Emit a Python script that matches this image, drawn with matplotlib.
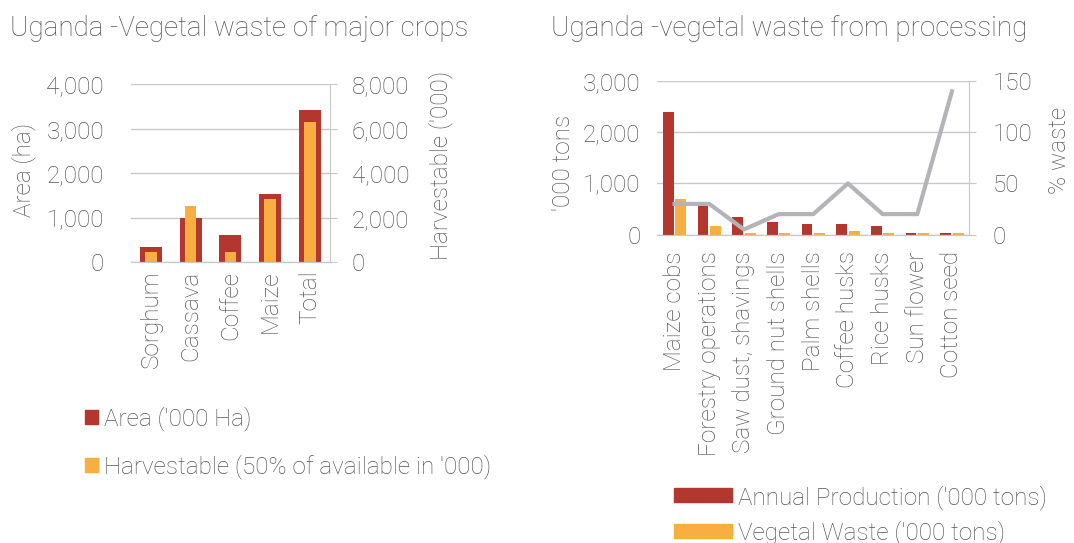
import numpy as np
import matplotlib
matplotlib.use("Agg")
import matplotlib.pyplot as plt
from matplotlib.patches import Patch
from matplotlib.ticker import StrMethodFormatter

plt.rcParams["font.family"] = ["Roboto", "DejaVu Sans"]
plt.rcParams["font.weight"] = "light"
plt.rcParams["axes.labelweight"] = "light"
plt.rcParams["text.color"] = "#555555"
plt.rcParams["xtick.color"] = "#555555"
plt.rcParams["ytick.color"] = "#555555"

# left chart data
crops = ["Sorghum", "Cassava", "Coffee", "Maize", "Total"]
area = [337, 1000, 614, 1536, 3431]
harvestable = [464, 2532, 464, 2861, 6321]

# right chart data
residues = ["Maize cobs", "Forestry operations", "Saw dust, shavings",
            "Ground nut shells", "Palm shells", "Coffee husks",
            "Rice husks", "Sun flower", "Cotton seed"]
production = [2407, 574, 346, 254, 215, 215, 170, 26, 39]
waste = [698, 170, 39, 33, 33, 78, 33, 33, 33]
pct_waste = [30, 30, 5, 20, 20, 50, 20, 20, 140]

RED = "#B3372F"
ORANGE = "#F9AE41"
GREY = "#B4B4B8"
GRID = "#C8C8C8"
FS = 17.5
TFS = 20

fig = plt.figure(figsize=(10.74, 5.43), dpi=100)


def style(ax, ax2, lpad, rpad, xpad):
    for a in (ax, ax2):
        for side in ("top", "left", "right"):
            a.spines[side].set_visible(False)
        a.spines["bottom"].set_color(GRID)
        a.tick_params(labelsize=FS, length=0)
    ax2.spines["right"].set_visible(True)
    ax2.spines["right"].set_color(GRID)
    ax2.tick_params(axis="y", length=5, color=GRID, pad=rpad)
    ax.tick_params(axis="y", pad=lpad)
    ax.tick_params(axis="x", pad=xpad)
    ax.grid(axis="y", color=GRID, linewidth=1)
    ax.set_axisbelow(True)


# ---- left: vegetal waste of major crops
ax1 = fig.add_axes([0.122, 0.517, 0.185, 0.328])
ax1b = ax1.twinx()
x = np.arange(len(crops))
ax1.bar(x, area, width=0.55, color=RED, zorder=2)
ax1b.bar(x, harvestable, width=0.29, color=ORANGE, zorder=3)
ax1.set_xlim(-0.5, len(crops) - 0.5)
ax1.set_ylim(0, 4000)
ax1b.set_ylim(0, 8000)
ax1.set_yticks(np.arange(0, 4001, 1000))
ax1b.set_yticks(np.arange(0, 8001, 2000))
ax1.yaxis.set_major_formatter(StrMethodFormatter("{x:,.0f}"))
ax1b.yaxis.set_major_formatter(StrMethodFormatter("{x:,.0f}"))
ax1.set_xticks(x)
ax1.set_xticklabels(crops, rotation=90)
style(ax1, ax1b, 19.5, 11, 6)
fig.text(24 / 1074, 1 - 170 / 543, "Area (ha)", fontsize=FS, rotation=90,
         ha="center", va="center")
fig.text(441 / 1074, 1 - 165 / 543, "Harvestable ('000)", fontsize=FS,
         rotation=90, ha="center", va="center")
fig.text(0.009, 0.948, "Uganda -Vegetal waste of major crops", fontsize=TFS,
         va="center")
fig.legend(handles=[Patch(color=RED, label="Area ('000 Ha)"),
                    Patch(color=ORANGE, label="Harvestable (50% of available in '000)")],
           loc="upper left", bbox_to_anchor=(0.0791, 0.251), frameon=False,
           fontsize=FS, handlelength=0.53, handleheight=0.53, handletextpad=0.25,
           labelspacing=0.94, borderaxespad=0, borderpad=0)

# ---- right: vegetal waste from processing
ax2 = fig.add_axes([0.612, 0.568, 0.2905, 0.2825])
ax2b = ax2.twinx()
x = np.arange(len(residues))
ax2.bar(x - 0.18, production, width=0.31, color=RED, zorder=2)
ax2.bar(x + 0.18, waste, width=0.31, color=ORANGE, zorder=2)
ax2b.plot(x, pct_waste, color=GREY, linewidth=3, zorder=3)
ax2.set_xlim(-0.5, len(residues) - 0.5)
ax2.set_ylim(0, 3000)
ax2b.set_ylim(0, 150)
ax2.set_yticks(np.arange(0, 3001, 1000))
ax2b.set_yticks(np.arange(0, 151, 50))
ax2.yaxis.set_major_formatter(StrMethodFormatter("{x:,.0f}"))
ax2.set_xticks(x)
ax2.set_xticklabels(residues, rotation=90)
style(ax2, ax2b, 12, 12, 12)
fig.text(563 / 1074, 1 - 163 / 543, "'000 tons", fontsize=FS, rotation=90,
         ha="center", va="center")
fig.text(1060 / 1074, 1 - 150 / 543, "% waste", fontsize=FS, rotation=90,
         ha="center", va="center")
fig.text(0.513, 0.948, "Uganda -vegetal waste from processing", fontsize=TFS,
         va="center")
fig.legend(handles=[Patch(color=RED, label="Annual Production ('000 tons)"),
                    Patch(color=ORANGE, label="Vegetal Waste ('000 tons)")],
           loc="upper left", bbox_to_anchor=(0.6276, 0.107), frameon=False,
           fontsize=FS, handlelength=2.4, handleheight=0.5, handletextpad=0.25,
           labelspacing=0.45, borderaxespad=0, borderpad=0)

fig.savefig("out.png", dpi=100)
